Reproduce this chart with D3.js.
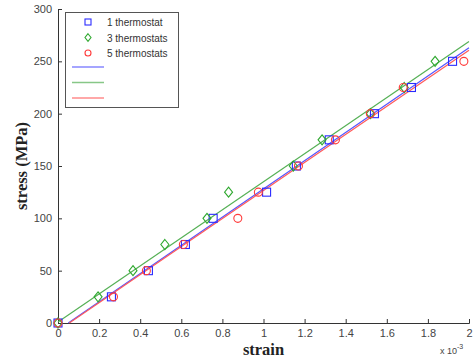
<!DOCTYPE html>
<html>
<head>
<meta charset="utf-8">
<script src="https://cdn.jsdelivr.net/npm/d3@7"></script>
<style>
  body { margin: 0; background: #fff; }
  svg { display: block; }
</style>
</head>
<body>
<svg id="chart"></svg>
<script>
// strain values are in units of 1e-3
const stressLevels = [0, 25, 50, 75, 100, 125, 150, 175, 200, 225, 250]
const strain1 = [0, 0.26, 0.44, 0.62, 0.755, 1.015, 1.16, 1.32, 1.54, 1.72, 1.92]
const strain3 = [0, 0.195, 0.365, 0.52, 0.725, 0.83, 1.145, 1.285, 1.52, 1.685, 1.835]
const strain5 = [0, 0.27, 0.43, 0.61, 0.875, 0.975, 1.17, 1.35, 1.52, 1.68, 1.975]

// fitted lines, [strain, stress] end points
const fit1 = [[0.05, 0], [2, 263]]
const fit3 = [[0, 1], [2, 269]]
const fit5 = [[0.055, 0], [2, 260.5]]

const seriesNames = ["1 thermostat", "3 thermostats", "5 thermostats"]
const xTicks = [0, 0.2, 0.4, 0.6, 0.8, 1, 1.2, 1.4, 1.6, 1.8, 2]
const yTicks = [0, 50, 100, 150, 200, 250, 300]

const width = 474, height = 363
const colors = ["#2b2bff", "#2ea82e", "#ff3b3b"]
const lineColors = ["#5555ff", "#55b055", "#ff5b5b"]

const svg = d3.select("#chart").attr("width", width).attr("height", height)

let xScale = d3.scaleLinear().domain([0, 2]).range([58, 469])
let yScale = d3.scaleLinear().domain([0, 300]).range([323, 9])

// axes
svg.append("g")
    .attr("transform", `translate(0,${yScale(0)})`)
    .call(d3.axisBottom(xScale).tickValues(xTicks).tickSize(-4).tickPadding(6)
        .tickFormat(d => d3.format("~g")(d)))
    .call(g => g.selectAll("text").attr("font-size", 11).attr("fill", "#444"))
svg.append("g")
    .attr("transform", `translate(${xScale(0)},0)`)
    .call(d3.axisLeft(yScale).tickValues(yTicks).tickSize(-4).tickPadding(6))
    .call(g => g.selectAll("text").attr("font-size", 11).attr("fill", "#444"))
svg.selectAll(".domain, .tick line").attr("stroke", "#333")
svg.selectAll(".tick text").attr("font-family", "Liberation Sans, Arial, sans-serif")

// fitted lines
let line = d3.line().x(d => xScale(d[0])).y(d => yScale(d[1]))
const fits = [fit1, fit3, fit5]
svg.append("g").selectAll("path")
    .data(fits)
    .join("path")
    .attr("d", d => line(d))
    .attr("fill", "none")
    .attr("stroke", (d, i) => lineColors[i])
    .attr("stroke-width", 1.2)

// markers
function drawMarker(g, kind, color, size) {
    if (kind === 0) {
        g.append("rect").attr("x", -size).attr("y", -size)
            .attr("width", size * 2).attr("height", size * 2)
    } else if (kind === 1) {
        g.append("path").attr("d", `M0,${-size * 1.25}L${size},0L0,${size * 1.25}L${-size},0Z`)
    } else {
        g.append("circle").attr("r", size)
    }
    g.selectAll("*").attr("fill", "none").attr("stroke", color).attr("stroke-width", 1.1)
}

const strains = [strain1, strain3, strain5]
strains.forEach((s, i) => {
    let pts = svg.append("g")
    s.forEach((v, j) => {
        let g = pts.append("g")
            .attr("transform", `translate(${xScale(v)},${yScale(stressLevels[j])})`)
        drawMarker(g, i, colors[i], 4)
    })
})

// legend
let legend = svg.append("g")
legend.append("rect")
    .attr("x", 65.5).attr("y", 12.5).attr("width", 113).attr("height", 95)
    .attr("fill", "#fff").attr("stroke", "#555").attr("stroke-width", 1)
seriesNames.forEach((name, i) => {
    let y = 22 + i * 15.5
    let g = legend.append("g").attr("transform", `translate(88,${y})`)
    drawMarker(g, i, colors[i], 3)
    legend.append("text").attr("x", 107).attr("y", y + 4)
        .attr("font-family", "Liberation Sans, Arial, sans-serif")
        .attr("font-size", 10).attr("fill", "#333").text(name)
    legend.append("line")
        .attr("x1", 72).attr("x2", 104)
        .attr("y1", 67 + i * 15.5).attr("y2", 67 + i * 15.5)
        .attr("stroke", lineColors[i]).attr("stroke-width", 1.5).attr("opacity", 0.7)
})

// axis titles
svg.append("text")
    .attr("x", xScale(1)).attr("y", 355)
    .attr("text-anchor", "middle")
    .attr("font-family", "Liberation Serif, Times New Roman, serif")
    .attr("font-weight", "bold").attr("font-size", 16.5).attr("fill", "#222")
    .text("strain")
svg.append("text")
    .attr("transform", `translate(27,${yScale(150)}) rotate(-90)`)
    .attr("text-anchor", "middle")
    .attr("font-family", "Liberation Serif, Times New Roman, serif")
    .attr("font-weight", "bold").attr("font-size", 16.5).attr("fill", "#222")
    .text("stress (MPa)")

let exp = svg.append("text").attr("x", 440).attr("y", 354)
    .attr("font-family", "Liberation Sans, Arial, sans-serif")
    .attr("font-size", 9).attr("fill", "#444")
exp.append("tspan").text("x 10")
exp.append("tspan").attr("dy", -5).attr("font-size", 7).text("-3")
</script>
</body>
</html>
